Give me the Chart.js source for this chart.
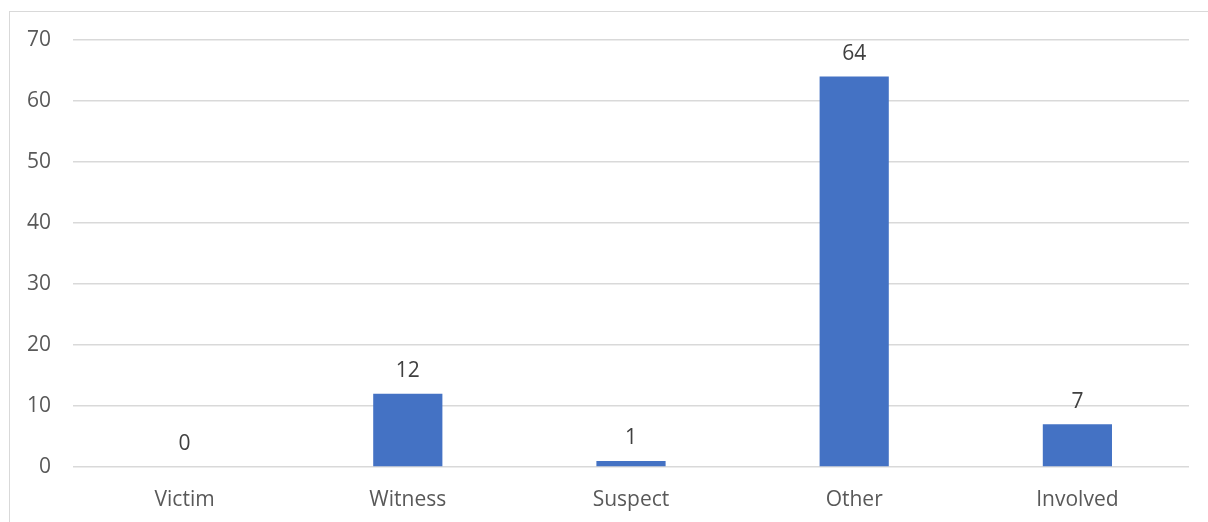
<!DOCTYPE html>
<html>
<head>
<meta charset="utf-8">
<script src="https://cdn.jsdelivr.net/npm/chart.js@4"></script>
<style>
  html, body { margin: 0; padding: 0; background: #fff; }
  #wrap { position: relative; width: 1208px; height: 522px; overflow: hidden; }
  #frame { position: absolute; left: 9px; top: 11px; width: 1300px; height: 600px; border: 1px solid #d9d9d9; box-sizing: border-box; }
  canvas { position: absolute; left: 0; top: 0; }
</style>
</head>
<body>
<div id="wrap">
  <div id="frame"></div>
  <canvas id="chart" width="1208" height="522"></canvas>
</div>
<script>
// chart data
const categories = ['Victim', 'Witness', 'Suspect', 'Other', 'Involved'];
const counts = [0, 12, 1, 64, 7];
const yTicks = [0, 10, 20, 30, 40, 50, 60, 70];

const fontFamily = "'Open Sans', 'Noto Sans', sans-serif";

// value labels above each bar
const barLabels = {
  id: 'barLabels',
  afterDatasetsDraw(chart) {
    const ctx = chart.ctx;
    const meta = chart.getDatasetMeta(0);
    ctx.save();
    ctx.font = '21px ' + fontFamily;
    ctx.fillStyle = '#404040';
    ctx.textAlign = 'center';
    ctx.textBaseline = 'bottom';
    meta.data.forEach(function (bar, i) {
      ctx.fillText(String(counts[i]), bar.x, bar.y - 12);
    });
    ctx.restore();
  }
};

new Chart(document.getElementById('chart'), {
  type: 'bar',
  data: {
    labels: categories,
    datasets: [{
      data: counts,
      backgroundColor: '#4472c4',
      borderWidth: 0,
      barPercentage: 0.62,
      categoryPercentage: 0.5
    }]
  },
  options: {
    responsive: false,
    animation: false,
    layout: { padding: { left: 0, right: 19, top: 40, bottom: 0 } },
    plugins: {
      legend: { display: false },
      tooltip: { enabled: false }
    },
    scales: {
      x: {
        grid: { display: false },
        border: { display: false },
        ticks: {
          color: '#595959',
          font: { family: fontFamily, size: 21 },
          padding: 12
        },
        afterFit(scale) { scale.height = 55; }
      },
      y: {
        min: 0,
        max: 70,
        afterBuildTicks(scale) {
          scale.ticks = yTicks.map(v => ({ value: v }));
        },
        grid: { color: '#d9d9d9', lineWidth: 1.5, drawTicks: false },
        border: { display: false },
        ticks: {
          color: '#595959',
          font: { family: fontFamily, size: 21 },
          padding: 22
        },
        afterFit(scale) { scale.width = 73; }
      }
    }
  },
  plugins: [barLabels]
});
</script>
</body>
</html>
